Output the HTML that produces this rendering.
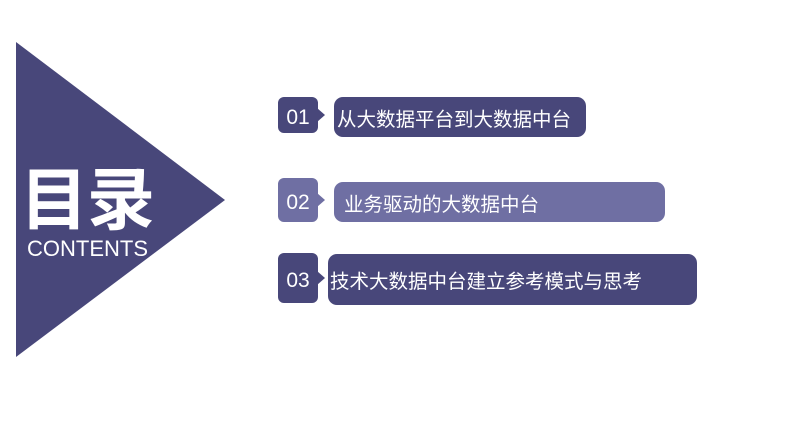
<!DOCTYPE html>
<html><head><meta charset="utf-8"><style>
body{margin:0;width:793px;height:446px;background:#fff;position:relative;overflow:hidden;font-family:"Liberation Sans","Noto Sans CJK SC",sans-serif}
.a{position:absolute}
.n{position:absolute;left:278px;width:40px;border-radius:6px;color:#fff;font-size:21px;line-height:1;display:flex;align-items:center;justify-content:center}
.n span{position:relative;top:2px}
.n:after{content:"";position:absolute;right:-7px;top:50%;margin-top:-7px;border-left:8px solid;border-left-color:inherit;border-top:7px solid transparent;border-bottom:7px solid transparent}
.t{position:absolute;border-radius:9px;color:#fff;font-size:19.5px;display:flex;align-items:center}
</style></head><body>
<svg class="a" style="left:0;top:0" width="793" height="446"><polygon points="16,42 225,200 16,357" fill="#48477a"/></svg>
<div class="a" style="left:20px;top:163px;font-size:68px;font-weight:bold;color:#fff;line-height:76px;letter-spacing:-1px">目录</div>
<div class="a" style="left:27px;top:236px;font-size:22px;color:#fff;line-height:26px">CONTENTS</div>

<div class="n" style="top:97px;height:36px;background:#48477a;border-color:#48477a"><span>01</span></div>
<div class="t" style="left:334px;top:97px;width:252px;height:40px;background:#48477a;padding-left:3px;box-sizing:border-box">从大数据平台到大数据中台</div>

<div class="n" style="top:178px;height:44px;background:#6f6fa3;border-color:#6f6fa3"><span>02</span></div>
<div class="t" style="left:334px;top:182px;width:331px;height:40px;background:#6f6fa3;padding-left:10px;box-sizing:border-box">业务驱动的大数据中台</div>

<div class="n" style="top:253px;height:50px;background:#48477a;border-color:#48477a"><span>03</span></div>
<div class="t" style="left:328px;top:254px;width:369px;height:51px;background:#48477a;padding-left:2px;box-sizing:border-box">技术大数据中台建立参考模式与思考</div>
</body></html>
